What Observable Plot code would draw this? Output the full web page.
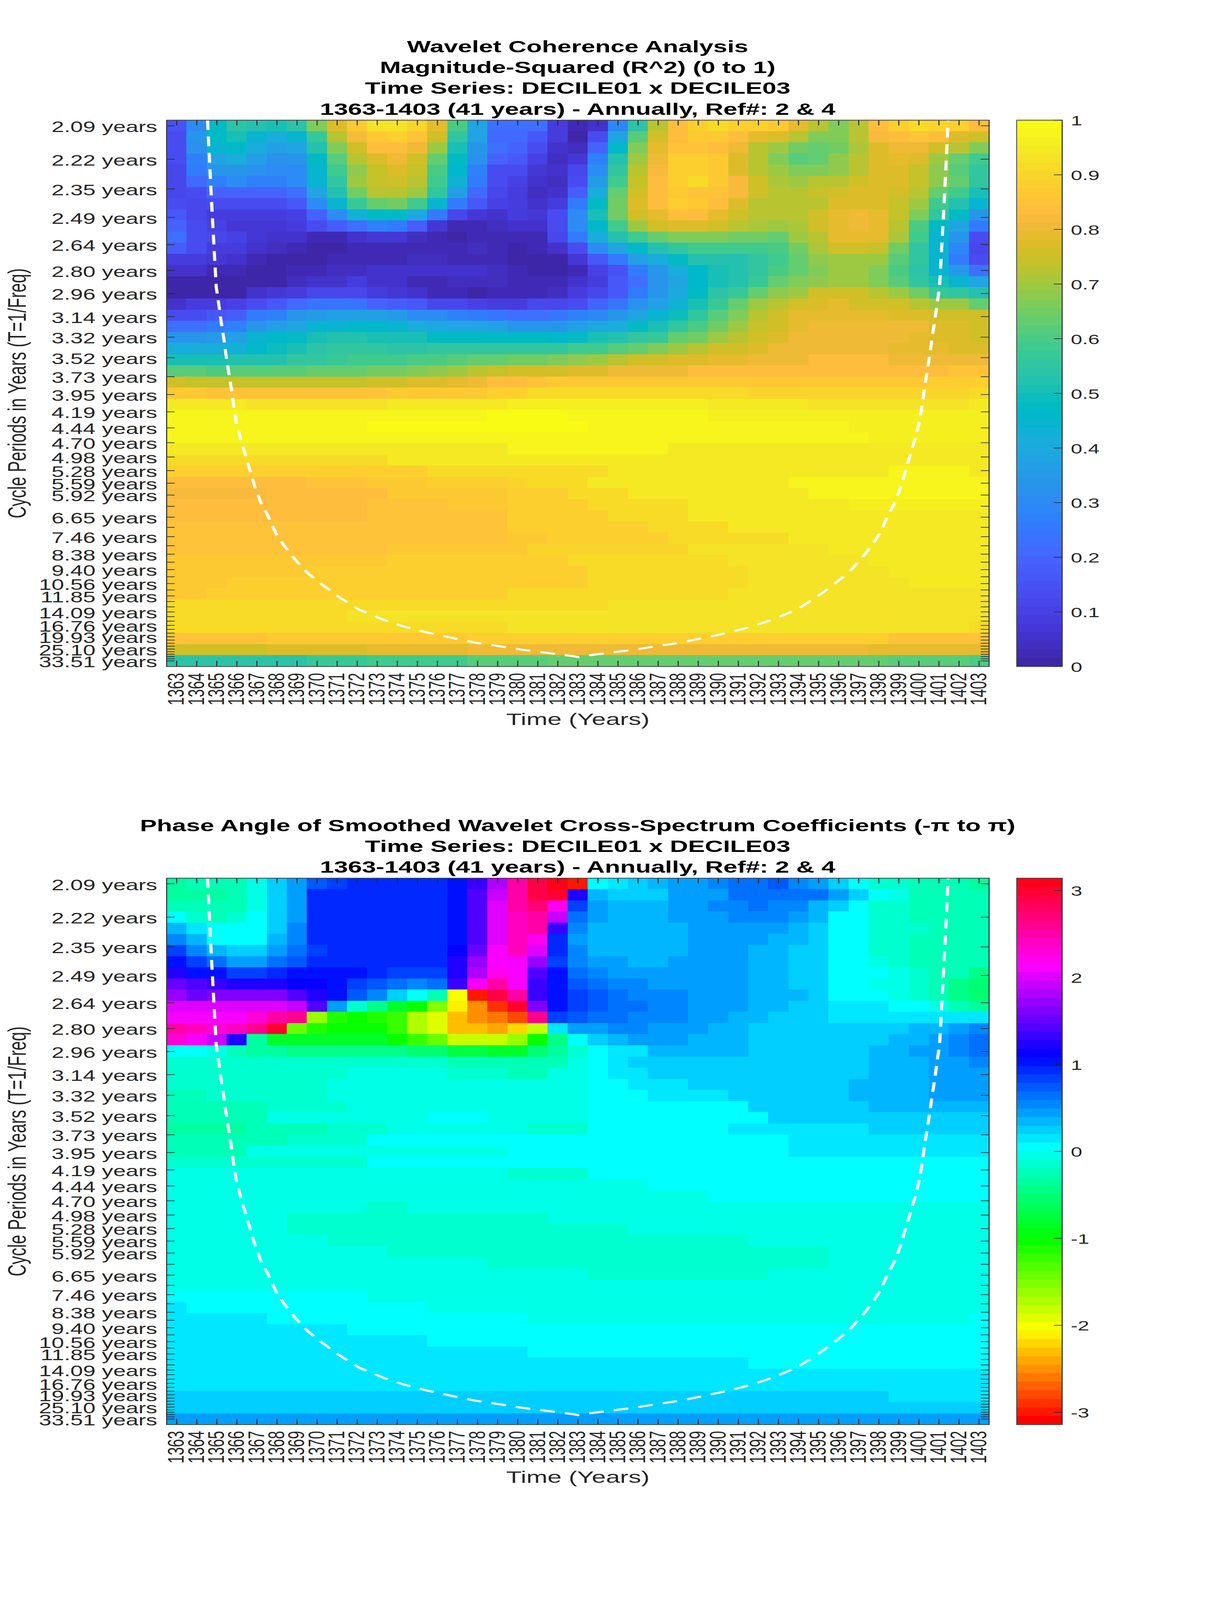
<!DOCTYPE html>
<html><head><meta charset="utf-8">
<script src="https://cdn.jsdelivr.net/npm/d3@7"></script>
<script src="https://cdn.jsdelivr.net/npm/@observablehq/plot@0.6"></script>
<style>
html,body{margin:0;padding:0;background:#fff;overflow:hidden}
#page{position:relative;width:3125px;height:6252px;overflow:hidden;transform-origin:0 0;font-family:"Liberation Sans",Arial,sans-serif}
.title{position:absolute;left:126px;width:2705px;text-align:center;font-weight:bold;font-size:64.5px;line-height:81px;color:#000;white-space:nowrap}
#page svg{position:absolute;display:block;background:transparent}
</style></head><body><div id="page"></div>
<script>
const years = d3.range(1363, 1404);
const periods = [2.09,2.22,2.35,2.49,2.64,2.80,2.96,3.14,3.32,3.52,3.73,3.95,4.19,4.44,4.70,4.98,5.28,5.59,5.92,6.27,6.65,7.05,7.46,7.91,8.38,8.88,9.40,9.96,10.56,11.19,11.85,12.55,13.30,14.09,14.93,15.82,16.76,17.76,18.81,19.93,21.12,22.37,23.70,25.10,26.59,28.17,29.85,31.62,33.51];
const labelledPeriods = [2.09,2.22,2.35,2.49,2.64,2.80,2.96,3.14,3.32,3.52,3.73,3.95,4.19,4.44,4.70,4.98,5.28,5.59,5.92,6.65,7.46,8.38,9.40,10.56,11.85,14.09,16.76,19.93,25.10,33.51];
const coiYears = [1364.54,1364.62,1364.73,1364.85,1364.97,1365.09,1365.22,1365.35,1365.46,1365.59,1365.72,1365.83,1365.95,1366.16,1366.4,1366.64,1366.88,1367.18,1367.58,1367.93,1368.33,1368.9,1369.55,1370.36,1371.16,1372.1,1373.26,1374.3,1375.5,1376.65,1377.86,1379.1,1380.25,1381.46,1382.76,1383,1383.24,1384.54,1385.75,1386.9,1388.14,1389.35,1390.5,1391.7,1392.74,1393.9,1394.84,1395.64,1396.45,1397.1,1397.67,1398.07,1398.42,1398.82,1399.12,1399.36,1399.6,1399.84,1400.05,1400.17,1400.28,1400.41,1400.54,1400.65,1400.78,1400.91,1401.03,1401.15,1401.27,1401.38,1401.46];
const coiRows = [0,3,7,11,14.94,16.4,18.13,19.6,21.07,22.54,24,25.46,26.9,28.4,29.86,31.3,32.77,34.24,35.6,37,38.1,39.4,40.65,41.8,42.85,43.9,44.77,45.4,45.96,46.4,46.85,47.18,47.5,47.77,48.07,48.15,48.07,47.77,47.5,47.18,46.85,46.4,45.96,45.4,44.77,43.9,42.85,41.8,40.65,39.4,38.1,37,35.6,34.24,32.77,31.3,29.86,28.4,26.9,25.46,24,22.54,21.07,19.6,18.13,16.4,14.94,11,7,3,0];

const coherence = [
[.15,.31,.47,.54,.53,.5,.54,.67,.78,.86, .93,.93,.9,.79,.6,.38,.22,.22,.22,.09, .02,.06,.29,.54,.73,.84,.89,.91,.89,.89, .86,.79,.72,.67,.73,.84,.89,.91,.9,.88,.84],
[.14,.33,.47,.51,.45,.42,.45,.57,.72,.82, .87,.89,.85,.75,.56,.38,.21,.21,.17,.09, .01,.13,.38,.61,.76,.84,.87,.87,.84,.79, .77,.73,.67,.67,.73,.82,.84,.85,.83,.78,.75],
[.14,.32,.44,.46,.41,.36,.39,.53,.67,.76, .83,.84,.81,.69,.51,.33,.22,.2,.13,.06, .04,.2,.46,.66,.79,.85,.85,.84,.8,.73, .7,.65,.64,.65,.71,.77,.81,.81,.76,.72,.66],
[.13,.28,.39,.41,.36,.32,.33,.47,.61,.72, .77,.81,.75,.63,.47,.32,.2,.17,.1,.04, .07,.27,.53,.7,.8,.88,.88,.86,.78,.73, .67,.62,.63,.68,.72,.78,.79,.78,.69,.63,.59],
[.11,.25,.33,.34,.32,.3,.31,.45,.58,.68, .74,.77,.74,.6,.46,.27,.14,.14,.07,.05, .11,.31,.56,.73,.82,.88,.88,.86,.78,.72, .69,.66,.66,.68,.72,.77,.77,.74,.68,.62,.55],
[.11,.21,.28,.3,.28,.28,.3,.45,.56,.69, .74,.75,.72,.58,.43,.25,.13,.1,.05,.04, .14,.35,.58,.74,.84,.88,.91,.86,.82,.75, .71,.7,.72,.72,.75,.77,.77,.74,.68,.63,.55],
[.12,.14,.2,.2,.2,.2,.23,.38,.53,.65, .72,.73,.69,.55,.36,.21,.12,.08,.04,.06, .18,.42,.63,.75,.83,.87,.85,.85,.82,.75, .72,.72,.74,.75,.77,.77,.76,.73,.64,.58,.5],
[.13,.12,.13,.13,.13,.13,.17,.31,.45,.57, .64,.65,.58,.45,.25,.16,.1,.08,.05,.09, .25,.47,.65,.78,.84,.88,.86,.84,.78,.73, .72,.72,.72,.77,.78,.78,.74,.7,.59,.53,.45],
[.16,.12,.09,.09,.08,.08,.1,.2,.31,.43, .48,.48,.4,.26,.12,.07,.06,.08,.07,.14, .31,.5,.65,.75,.79,.83,.83,.79,.75,.73, .72,.72,.75,.79,.8,.79,.74,.66,.55,.47,.34],
[.2,.13,.1,.07,.07,.07,.09,.13,.18,.23, .27,.26,.18,.07,.02,.02,.04,.05,.06,.13, .3,.46,.58,.69,.75,.77,.77,.76,.73,.71, .69,.71,.76,.79,.8,.79,.72,.6,.47,.38,.26],
[.23,.14,.11,.1,.07,.06,.05,.03,.03,.06, .07,.07,.04,.02,0,.02,.03,.03,.03,.12, .25,.41,.53,.58,.64,.66,.66,.66,.65,.65, .64,.69,.73,.79,.79,.79,.71,.59,.45,.33,.14],
[.18,.13,.09,.08,.06,.04,.02,.01,.01,.02, .03,.03,.03,.03,.03,.04,.03,.01,.02,.05, .13,.3,.38,.46,.53,.56,.58,.58,.58,.58, .6,.65,.71,.75,.76,.74,.65,.56,.45,.29,.11],
[.09,.08,.07,.05,.03,.01,.01,.01,.03,.03, .03,.03,.04,.04,.03,.03,.03,0,0,.01, .07,.16,.25,.36,.42,.47,.52,.53,.53,.55, .59,.64,.68,.7,.7,.69,.62,.55,.44,.25,.14],
[.05,.05,.03,.02,.01,.01,.03,.03,.04,.04, .05,.05,.05,.05,.05,.05,.04,.02,0,0, .02,.1,.15,.25,.34,.42,.46,.5,.53,.56, .6,.63,.67,.69,.7,.67,.6,.54,.44,.35,.23],
[0,0,0,0,0,0,.04,.05,.06,.08, .05,.05,.03,.03,.04,.04,.04,.02,.02,.02, .05,.09,.16,.23,.33,.38,.46,.5,.53,.57, .63,.66,.68,.7,.69,.66,.61,.56,.5,.45,.38],
[0,0,.01,.01,.05,.07,.08,.12,.12,.12, .09,.07,.06,.03,.03,.01,.03,.02,.02,.04, .08,.11,.16,.26,.33,.4,.47,.54,.57,.63, .68,.7,.75,.75,.75,.72,.69,.65,.57,.56,.52],
[.06,.08,.08,.1,.14,.17,.21,.24,.24,.24, .2,.18,.16,.12,.12,.1,.08,.09,.11,.12, .13,.19,.24,.32,.37,.43,.51,.57,.64,.69, .73,.76,.77,.79,.76,.76,.75,.72,.7,.69,.64],
[.13,.14,.16,.18,.25,.28,.33,.35,.37,.37, .37,.35,.31,.31,.28,.26,.24,.23,.23,.24, .27,.29,.33,.38,.44,.49,.55,.61,.67,.72, .75,.79,.79,.79,.79,.79,.78,.78,.76,.75,.75],
[.23,.23,.25,.28,.33,.37,.39,.44,.45,.46, .46,.45,.41,.4,.39,.38,.37,.34,.33,.33, .36,.4,.42,.47,.5,.56,.6,.65,.7,.74, .76,.79,.81,.81,.81,.81,.8,.8,.78,.78,.75],
[.33,.34,.35,.37,.44,.46,.48,.5,.52,.52, .51,.51,.5,.47,.47,.47,.48,.47,.47,.46, .48,.5,.53,.55,.57,.63,.65,.69,.73,.75, .78,.8,.81,.81,.81,.81,.8,.79,.78,.78,.75],
[.41,.41,.42,.43,.46,.49,.51,.54,.55,.56, .55,.54,.54,.55,.55,.55,.55,.55,.55,.55, .58,.59,.61,.63,.66,.69,.72,.75,.76,.78, .8,.8,.81,.81,.81,.81,.79,.79,.79,.77,.77],
[.51,.51,.51,.52,.53,.53,.55,.56,.57,.58, .59,.58,.6,.6,.61,.63,.64,.65,.65,.66, .68,.69,.72,.75,.76,.77,.77,.79,.79,.81, .81,.81,.83,.83,.83,.83,.81,.81,.81,.8,.8],
[.61,.61,.6,.61,.61,.62,.62,.63,.64,.64, .65,.65,.66,.68,.7,.72,.74,.75,.75,.76, .78,.78,.8,.81,.81,.81,.83,.83,.84,.84, .84,.84,.84,.84,.84,.84,.84,.84,.84,.85,.85],
[.75,.74,.74,.74,.74,.74,.74,.74,.74,.74, .75,.76,.77,.78,.79,.81,.83,.83,.85,.86, .86,.86,.87,.87,.87,.87,.87,.87,.87,.87, .87,.87,.87,.87,.87,.87,.87,.87,.88,.88,.88],
[.86,.86,.85,.85,.85,.85,.85,.85,.85,.85, .85,.86,.86,.87,.87,.87,.88,.89,.91,.91, .91,.91,.91,.91,.91,.91,.91,.91,.91,.9, .9,.9,.9,.9,.9,.9,.9,.9,.9,.9,.92],
[.95,.95,.95,.95,.93,.93,.93,.93,.93,.93, .93,.94,.94,.94,.95,.95,.95,.96,.96,.96, .96,.96,.96,.96,.96,.96,.96,.95,.95,.95, .95,.95,.93,.93,.93,.93,.93,.93,.93,.93,.95],
[.98,.98,.98,.98,.98,.98,.98,.98,.98,.98, .98,.98,.98,.98,.98,.98,.99,1,1,1, .98,.98,.98,.98,.98,.98,.98,.96,.96,.96, .96,.96,.96,.96,.96,.96,.96,.96,.96,.96,.96],
[.98,.98,.98,.98,.98,.98,.98,.98,.98,.98, .99,.99,.99,.99,.99,.99,.99,1,1,1, 1,.98,.98,.98,.98,.98,.98,.98,.97,.97, .97,.97,.97,.97,.96,.96,.96,.96,.96,.96,.96],
[.98,.98,.98,.98,.98,.98,.98,.98,.98,.98, .98,.98,.98,.98,.98,.98,.98,.98,.98,.98, .98,.98,.98,.98,.98,.98,.98,.98,.97,.97, .97,.97,.97,.97,.97,.96,.96,.96,.96,.96,.96],
[.95,.95,.95,.95,.95,.95,.95,.95,.95,.95, .95,.95,.95,.95,.95,.95,.95,.97,.97,.97, .97,.97,.97,.97,.97,.95,.95,.95,.95,.95, .95,.95,.95,.95,.95,.95,.95,.95,.95,.95,.95],
[.91,.91,.91,.91,.91,.92,.92,.92,.92,.92, .92,.94,.94,.94,.94,.94,.94,.95,.95,.95, .95,.95,.95,.95,.95,.95,.95,.95,.95,.95, .95,.95,.95,.95,.95,.95,.95,.95,.95,.95,.95],
[.88,.88,.88,.88,.88,.88,.89,.89,.89,.89, .89,.89,.89,.91,.91,.91,.91,.92,.92,.92, .92,.92,.95,.95,.95,.95,.95,.95,.95,.95, .95,.95,.95,.95,.95,.95,.97,.97,.97,.97,.95],
[.83,.83,.84,.84,.84,.84,.84,.85,.85,.85, .87,.87,.87,.88,.88,.88,.88,.9,.92,.92, .92,.94,.94,.94,.94,.95,.95,.95,.95,.95, .95,.97,.97,.97,.97,.97,.97,.97,.97,.97,.97],
[.82,.82,.82,.82,.82,.83,.83,.83,.83,.84, .84,.86,.86,.86,.86,.86,.86,.89,.89,.89, .91,.91,.91,.94,.94,.94,.95,.95,.95,.95, .95,.95,.97,.97,.97,.97,.97,.97,.97,.97,.97],
[.83,.83,.83,.83,.83,.83,.83,.83,.83,.83, .85,.85,.85,.85,.86,.86,.86,.88,.89,.89, .89,.92,.92,.92,.92,.92,.95,.95,.95,.95, .95,.95,.95,.95,.96,.96,.96,.96,.96,.96,.96],
[.84,.84,.84,.84,.84,.84,.84,.84,.84,.84, .85,.85,.85,.85,.85,.85,.85,.88,.88,.89, .89,.89,.92,.92,.92,.92,.94,.94,.94,.94, .95,.95,.95,.95,.95,.95,.95,.95,.95,.95,.95],
[.85,.85,.85,.85,.85,.85,.85,.85,.85,.85, .85,.85,.85,.85,.85,.85,.85,.88,.88,.88, .89,.89,.89,.89,.92,.92,.92,.92,.94,.94, .94,.94,.94,.94,.95,.95,.95,.95,.95,.95,.95],
[.85,.85,.85,.85,.85,.85,.85,.85,.85,.85, .85,.85,.85,.85,.85,.85,.85,.87,.87,.89, .89,.89,.89,.89,.89,.92,.92,.92,.92,.92, .92,.94,.94,.94,.94,.94,.94,.94,.94,.94,.94],
[.85,.85,.85,.85,.85,.85,.85,.85,.85,.85, .85,.87,.87,.87,.87,.87,.87,.87,.9,.9, .9,.9,.9,.9,.9,.9,.93,.93,.93,.93, .93,.93,.93,.94,.94,.94,.94,.94,.94,.94,.94],
[.86,.86,.86,.86,.86,.86,.86,.86,.86,.86, .86,.88,.88,.88,.88,.88,.88,.88,.88,.88, .91,.91,.91,.91,.91,.91,.91,.91,.93,.93, .93,.93,.93,.93,.93,.94,.94,.94,.94,.94,.94],
[.86,.86,.86,.86,.86,.86,.86,.88,.88,.88, .88,.88,.88,.88,.88,.88,.88,.88,.88,.88, .88,.91,.91,.91,.91,.91,.91,.91,.91,.93, .93,.93,.93,.93,.93,.93,.94,.94,.94,.94,.94],
[.86,.86,.86,.88,.88,.88,.88,.88,.88,.88, .88,.88,.88,.88,.88,.88,.88,.88,.88,.88, .88,.91,.91,.91,.91,.91,.91,.91,.91,.93, .93,.93,.93,.93,.93,.93,.93,.94,.94,.94,.94],
[.87,.87,.89,.89,.89,.89,.89,.89,.89,.89, .89,.89,.89,.89,.89,.89,.89,.91,.91,.91, .91,.91,.91,.91,.91,.91,.91,.91,.93,.93, .93,.93,.93,.93,.93,.93,.93,.93,.93,.93,.93],
[.91,.91,.91,.91,.91,.91,.91,.91,.91,.91, .91,.91,.91,.92,.92,.92,.92,.92,.92,.92, .92,.92,.93,.93,.93,.93,.93,.93,.93,.93, .93,.93,.93,.93,.93,.93,.93,.93,.93,.93,.93],
[.91,.91,.91,.91,.91,.91,.91,.91,.91,.93, .93,.93,.93,.93,.93,.93,.93,.93,.93,.93, .93,.93,.93,.93,.93,.93,.93,.93,.93,.93, .93,.93,.93,.93,.93,.93,.93,.93,.93,.93,.93],
[.91,.91,.91,.91,.91,.91,.91,.91,.91,.91, .91,.91,.91,.91,.91,.91,.91,.93,.93,.93, .93,.93,.93,.93,.93,.93,.93,.93,.93,.93, .93,.93,.93,.93,.93,.93,.93,.93,.93,.93,.91],
[.85,.85,.85,.85,.85,.87,.87,.87,.87,.87, .87,.87,.87,.87,.87,.88,.88,.88,.88,.88, .88,.88,.88,.88,.88,.88,.88,.88,.88,.88, .88,.88,.88,.88,.88,.88,.85,.85,.85,.85,.85],
[.75,.75,.75,.75,.75,.77,.77,.77,.77,.77, .79,.79,.79,.79,.79,.8,.8,.8,.8,.8, .8,.8,.8,.8,.8,.8,.8,.8,.8,.8, .8,.8,.8,.8,.8,.79,.79,.79,.79,.79,.79],
[.54,.54,.54,.54,.54,.54,.54,.57,.57,.57, .59,.59,.59,.59,.59,.61,.61,.61,.61,.64, .64,.64,.64,.64,.64,.64,.64,.64,.64,.64, .64,.64,.64,.64,.64,.64,.62,.62,.62,.62,.6]
];

const phase = [
[-.33,-.28,-.28,-.2,-.03,.2,.45,.7,.85,.93, .93,.93,.93,.93,1,1.35,1.85,2.55,2.85,3.05, -3,.02,.1,.2,.3,.4,.48,.5,.6,.6, .72,.55,.48,.2,0,-.1,-.15,-.28,-.28,-.28,-.32],
[-.3,-.3,-.3,-.2,-.05,.2,.45,.93,.93,.93, .93,.93,.93,.93,1.02,1.4,1.9,2.55,2.85,2.95, 1.25,.3,.2,.28,.28,.4,.48,.48,.6,.6, .6,.6,.6,.4,.2,0,-.07,-.25,-.25,-.25,-.25],
[-.2,-.2,-.2,-.2,-.05,.2,.45,.93,.93,.93, .93,.93,.93,.93,1.02,1.4,2,2.55,2.7,2.25, .85,.4,.3,.3,.3,.4,.4,.5,.5,.6, .5,.5,.3,.2,0,-.1,-.15,-.27,-.27,-.27,-.27],
[.02,-.1,-.2,-.1,0,.2,.45,.93,.93,.93, .93,.93,.93,.93,1.02,1.4,2,2.4,2.55,1.9, .62,.4,.3,.3,.3,.4,.4,.4,.5,.5, .5,.42,.3,.05,0,-.1,-.15,-.27,-.27,-.27,-.27],
[.3,.1,0,0,0,.2,.55,.93,.93,.93, .93,.93,.93,.93,1.02,1.4,2,2.4,2.5,1.3, .5,.3,.3,.3,.3,.3,.4,.4,.4,.4, .4,.3,.2,.05,0,-.1,-.15,-.15,-.27,-.27,-.27],
[.5,.3,.08,.08,.08,.3,.55,.93,.93,.93, .93,.93,.93,.93,1.02,1.4,2,2.4,2.2,.9, .4,.3,.3,.3,.3,.3,.4,.4,.4,.4, .3,.3,.2,.05,0,-.1,-.15,-.2,-.27,-.27,-.27],
[.8,.5,.35,.2,.2,.4,.65,.85,.93,.93, .93,.93,.93,.95,1.1,1.55,2.1,2.4,2.05,.9, .5,.3,.3,.3,.3,.3,.4,.4,.4,.3, .3,.2,.2,.05,0,-.1,-.15,-.2,-.27,-.27,-.27],
[1.03,.8,.6,.42,.42,.6,.75,.9,.98,.98, .93,.93,.93,.93,1.25,1.75,2.1,2.1,1.75,.88, .55,.4,.4,.3,.3,.4,.4,.4,.4,.3, .3,.2,.2,.05,0,-.08,-.12,-.2,-.27,-.27,-.27],
[1.25,1.05,1.03,.85,.85,.93,1,1,1,1, .93,.8,.8,.85,1.25,1.85,2.2,2.1,1.45,1.05, .65,.5,.4,.4,.4,.4,.4,.4,.4,.3, .3,.2,.2,.05,0,0,-.03,-.15,-.27,-.27,-.45],
[1.55,1.4,1.3,1.2,1.2,1.2,1.15,1.1,1.05,.8, .7,.65,.55,.65,1.3,2.1,2.5,2.1,1.35,1.05, .72,.6,.5,.5,.4,.4,.4,.4,.4,.3, .3,.2,.2,.08,.08,-.02,-.07,-.15,-.27,-.42,-.55],
[1.7,1.55,1.6,1.65,1.65,1.65,1.45,1.2,1.03,.7, .5,.2,0,-.25,-2.05,-3,2.9,2.55,1.35,1.05, .8,.7,.6,.5,.5,.5,.4,.4,.4,.3, .3,.3,.2,.08,0,0,-.07,-.12,-.2,-.42,-.55],
[1.97,1.97,1.97,1.97,1.97,1.97,1.9,1.4,.4,-.15, -.45,-.8,-1.05,-1.55,-2.15,-2.5,-2.85,2.95,1.65,1.02, .85,.75,.65,.6,.5,.5,.4,.4,.4,.3, .3,.2,.2,.1,.1,.1,0,0,-.03,-.2,-.3],
[2.1,2.1,2.1,2.1,2.3,2.5,2.6,-1.65,-1.15,-1.05, -1.1,-1.25,-1.75,-1.95,-2.3,-2.5,-2.6,-2.8,2.6,.85, .7,.6,.6,.5,.5,.5,.4,.4,.3,.3, .2,.2,.2,.1,.1,.1,.1,.1,.1,.1,.1],
[2.5,2.4,2.35,2.45,2.6,3,-1.4,-1.1,-1.05,-1.05, -1.05,-1.2,-1.7,-1.95,-2.3,-2.35,-2.4,-2.25,-1.8,.1, .4,.4,.55,.55,.4,.4,.4,.3,.3,.2, .2,.2,.2,.2,.2,.2,.2,.3,.3,.4,.5],
[2.3,2.15,1.9,1.2,-.3,-.8,-.8,-.8,-.8,-.85, -.85,-1,-1.2,-1.45,-1.8,-1.85,-1.85,-1.6,-1.05,-.45, 0,.2,.3,.42,.42,.42,.3,.3,.3,.2, .2,.2,.2,.2,.2,.2,.3,.3,.4,.5,.6],
[0,0,-.05,-.2,-.35,-.35,-.45,-.45,-.45,-.45, -.45,-.45,-.5,-.5,-.75,-.75,-.8,-.85,-.55,-.3, -.1,.07,.18,.18,.3,.3,.3,.3,.3,.2, .2,.2,.2,.2,.2,.3,.3,.4,.4,.5,.6],
[-.15,-.15,-.15,-.15,-.15,-.15,-.15,-.15,-.15,-.15, -.15,-.15,-.15,-.15,-.25,-.25,-.25,-.25,-.25,-.2, -.08,0,.1,.2,.2,.2,.2,.2,.2,.2, .2,.2,.2,.2,.2,.3,.3,.3,.4,.4,.5],
[-.15,-.15,-.15,-.15,-.15,-.15,-.15,-.15,-.15,-.05, -.05,-.05,-.05,-.05,-.17,-.17,-.17,-.2,-.2,-.05, -.05,0,.1,.1,.2,.2,.2,.2,.2,.2, .2,.2,.2,.2,.2,.3,.3,.3,.4,.4,.4],
[-.15,-.15,-.15,-.15,-.15,-.15,-.15,-.15,-.04,-.04, -.04,-.04,-.04,-.04,-.04,-.04,-.04,-.05,-.05,-.05, -.05,0,0,.1,.1,.1,.2,.2,.2,.2, .2,.2,.2,.2,.3,.3,.3,.3,.4,.4,.4],
[-.2,-.2,-.12,-.12,-.12,-.12,-.12,-.12,-.04,-.04, -.04,-.04,-.04,-.04,-.04,-.04,-.04,-.05,-.05,-.05, -.05,0,0,0,.1,.1,.1,.1,.2,.2, .2,.2,.2,.2,.3,.3,.3,.3,.4,.4,.4],
[-.22,-.22,-.22,-.22,-.22,-.15,-.15,-.15,-.15,-.02, -.02,-.02,-.02,-.02,-.02,-.02,-.02,-.05,-.05,-.05, -.05,0,0,0,0,.08,.08,.08,.08,.2, .2,.2,.2,.2,.2,.3,.3,.3,.3,.3,.3],
[-.25,-.25,-.25,-.25,-.25,-.08,-.08,-.08,-.08,-.08, -.08,-.08,-.08,0,0,0,-.03,-.05,-.05,-.05, -.08,0,0,0,0,0,0,.08,.08,.08, .2,.2,.2,.2,.2,.2,.2,.2,.2,.2,.2],
[-.3,-.3,-.3,-.3,-.2,-.2,-.2,-.2,-.12,-.12, -.12,-.02,-.02,-.02,-.02,-.02,-.02,-.02,-.12,-.12, -.12,0,0,0,0,0,0,0,.1,.1, .1,.1,.1,.1,.1,.2,.2,.2,.2,.2,.2],
[-.27,-.27,-.27,-.27,-.2,-.2,-.12,-.12,-.12,-.12, 0,0,0,0,0,0,0,0,0,0, 0,0,0,0,0,0,0,0,0,.05, .05,.12,.12,.12,.12,.12,.12,.12,.12,.12,.12],
[-.27,-.27,-.27,-.27,-.08,-.08,-.08,-.08,-.08,-.02, -.02,-.02,-.02,-.02,-.02,-.02,-.02,0,0,0, 0,0,0,0,0,0,0,0,0,0, 0,.12,.12,.12,.12,.12,.12,.12,.12,.12,.12],
[-.1,-.1,-.1,-.1,-.1,-.1,-.1,-.1,-.1,-.1, 0,0,0,0,0,0,0,0,0,0, 0,0,0,0,0,0,0,0,0,0, 0,0,0,0,0,0,0,0,0,0,0],
[-.05,-.05,-.05,-.05,-.05,-.05,-.05,-.05,-.05,-.05, -.05,-.05,-.05,-.05,-.05,-.05,-.05,-.12,-.12,-.12, -.12,0,0,0,0,0,0,0,0,0, 0,0,0,0,0,0,0,0,0,0,0],
[-.05,-.05,-.05,-.05,-.05,-.05,-.05,-.05,-.05,-.05, -.05,-.05,-.05,-.05,-.05,-.05,-.05,-.05,-.05,-.05, -.05,-.05,-.05,-.05,0,0,0,0,0,0, 0,0,0,0,0,0,0,0,0,0,0],
[-.05,-.05,-.05,-.05,-.05,-.05,-.05,-.05,-.05,-.05, -.05,-.05,-.05,-.05,-.05,-.05,-.05,-.05,-.05,-.05, -.05,-.05,-.05,-.05,-.05,-.05,-.05,0,0,0, 0,0,0,0,0,0,0,0,0,0,0],
[-.05,-.05,-.05,-.05,-.05,-.05,-.05,-.05,-.05,-.05, -.12,-.12,-.05,-.05,-.05,-.05,-.05,-.05,-.05,-.05, -.05,-.05,-.05,-.05,-.05,-.05,-.05,-.05,-.05,-.05, -.05,-.05,-.05,-.05,-.05,-.05,-.05,-.05,-.05,-.05,-.05],
[-.05,-.05,-.05,-.05,-.05,-.05,-.13,-.13,-.13,-.13, -.13,-.13,-.13,-.13,-.13,-.13,-.13,-.15,-.15,-.05, -.05,-.05,-.05,-.05,-.05,-.05,-.05,-.05,-.05,-.05, -.05,-.05,-.05,-.05,-.05,-.05,-.05,-.05,-.05,-.05,-.05],
[-.05,-.05,-.05,-.05,-.05,-.05,-.13,-.13,-.13,-.13, -.13,-.13,-.13,-.13,-.13,-.13,-.13,-.15,-.15,-.15, -.15,-.15,-.15,-.05,-.05,-.05,-.05,-.05,-.05,-.05, -.05,-.05,-.05,-.05,-.05,-.05,-.05,-.05,-.05,-.05,-.05],
[-.05,-.05,-.05,-.05,-.05,-.05,-.05,-.05,-.15,-.15, -.15,-.15,-.15,-.15,-.15,-.15,-.15,-.15,-.15,-.15, -.15,-.15,-.15,-.15,-.15,-.15,-.15,-.15,-.15,-.05, -.05,-.05,-.05,-.05,-.05,-.05,-.05,-.05,-.05,-.05,-.05],
[-.02,-.05,-.05,-.05,-.05,-.05,-.05,-.05,-.05,-.05, -.05,-.15,-.15,-.15,-.15,-.15,-.15,-.15,-.15,-.15, -.15,-.15,-.15,-.15,-.15,-.15,-.15,-.15,-.15,-.15, -.15,-.15,-.15,-.05,-.05,-.05,-.05,-.05,-.05,-.05,-.05],
[-.02,-.02,-.02,-.05,-.05,-.05,-.05,-.05,-.05,-.05, -.05,-.05,-.05,-.05,-.05,-.05,-.12,-.15,-.15,-.15, -.15,-.15,-.15,-.15,-.15,-.15,-.15,-.15,-.15,-.15, -.15,-.15,-.15,-.05,-.05,-.05,-.05,-.05,-.05,-.05,-.05],
[-.02,-.02,-.02,-.02,-.02,-.02,-.05,-.05,-.05,-.05, -.05,-.05,-.05,-.05,-.05,-.05,-.05,-.05,-.05,-.05, -.05,-.15,-.15,-.15,-.15,-.15,-.15,-.15,-.15,-.15, -.05,-.05,-.05,-.05,-.05,-.05,-.05,-.05,-.05,-.05,-.05],
[-.02,-.02,-.02,-.02,-.02,-.02,-.02,-.02,-.02,-.02, -.05,-.05,-.05,-.05,-.05,-.05,-.05,-.05,-.05,-.05, -.05,-.05,-.05,-.05,-.05,-.05,-.05,-.05,-.05,-.05, -.05,-.05,-.05,-.05,-.05,-.05,-.05,-.05,-.05,-.05,-.05],
[0,0,0,0,0,0,0,0,0,0, -.05,-.05,-.05,-.05,-.05,-.05,-.05,-.05,-.05,-.05, -.05,-.05,-.05,-.05,-.05,-.05,-.05,-.05,-.05,-.05, -.05,-.05,-.05,-.05,-.05,-.05,-.05,-.05,-.05,-.05,-.05],
[.1,0,0,0,0,0,0,0,0,0, 0,0,0,-.05,-.05,-.05,-.05,-.05,-.05,-.05, -.05,-.05,-.05,-.05,-.05,-.05,-.05,-.05,-.05,-.05, -.05,-.05,-.05,-.05,-.05,-.05,-.05,-.05,-.05,-.05,-.05],
[.1,.1,.1,.1,.1,0,0,0,0,0, 0,0,0,0,0,0,0,0,-.05,-.05, -.05,-.05,-.05,-.05,-.05,-.05,-.05,-.05,-.05,-.05, -.05,-.05,-.05,-.05,-.05,-.05,-.05,-.05,-.05,-.05,0],
[.1,.1,.1,.1,.1,.1,.1,.1,.1,0, 0,0,0,0,0,0,0,0,0,0, 0,0,0,0,0,0,0,0,0,0, 0,0,0,0,0,0,0,0,0,0,0],
[.1,.1,.1,.1,.1,.1,.1,.1,.1,.1, .1,.1,.1,0,0,0,0,0,0,0, 0,0,0,0,0,0,0,0,0,0, 0,0,0,0,0,0,0,0,0,0,0],
[.1,.1,.1,.1,.1,.1,.1,.1,.1,.1, .1,.1,.1,.1,.1,.1,.1,.1,0,0, 0,0,0,0,0,0,0,0,0,0, 0,0,0,0,0,0,0,0,0,0,0],
[.1,.1,.1,.1,.1,.1,.1,.1,.1,.1, .1,.1,.1,.1,.1,.1,.1,.1,.1,.1, .1,.1,.1,.1,.1,.1,.1,.1,.1,0, 0,0,0,0,0,0,0,0,0,0,0],
[.1,.1,.1,.1,.1,.1,.1,.1,.1,.1, .1,.1,.1,.1,.1,.1,.1,.1,.1,.1, .1,.1,.1,.1,.1,.1,.1,.1,.1,.1, .1,.1,.1,.1,.1,.1,.1,.1,.1,.1,.1],
[.1,.1,.1,.1,.1,.1,.1,.1,.1,.1, .1,.1,.1,.1,.1,.1,.1,.1,.1,.1, .1,.1,.1,.1,.1,.1,.1,.1,.1,.1, .1,.1,.1,.1,.1,.1,.1,.1,.1,.1,.1],
[.2,.2,.2,.2,.2,.2,.2,.2,.2,.2, .2,.2,.2,.2,.2,.2,.2,.2,.2,.2, .2,.2,.2,.2,.2,.2,.2,.2,.2,.2, .2,.2,.2,.2,.2,.2,.1,.1,.1,.1,.1],
[.2,.2,.2,.2,.2,.2,.2,.2,.2,.2, .2,.2,.2,.2,.2,.2,.2,.2,.2,.2, .2,.2,.2,.2,.2,.2,.2,.2,.2,.2, .2,.2,.2,.2,.2,.2,.2,.2,.2,.2,.2],
[.4,.4,.4,.4,.4,.4,.4,.4,.4,.4, .4,.4,.4,.4,.4,.4,.4,.4,.4,.4, .4,.4,.4,.4,.4,.4,.4,.4,.4,.4, .4,.4,.4,.4,.4,.4,.4,.4,.4,.4,.4]
];

const parula = ["#3e26a8","#402ab5","#422fc0","#4332cb","#4537d5","#463cde","#4741e5","#4747eb","#484cf0","#4852f4","#4758f8","#465dfa","#4563fc","#4269fe","#3e6fff","#3875fe","#327bfc","#2f81fa","#2d87f7","#2d8cf3","#2b91ee","#2796ea","#259be7","#23a0e5","#20a5e2","#1ca9df","#18addb","#11b1d6","#08b4d0","#01b8ca","#02bac3","#0bbdbc","#18bfb5","#24c1ae","#2cc3a7","#31c69f","#37c897","#3fca8e","#4acb84","#57cc7a","#64cd6f","#71cc63","#80cc59","#8fca4e","#9dc942","#abc739","#b9c431","#c5c22a","#d1bf27","#dcbd29","#e6bb2d","#efba35","#f8ba3d","#febd3c","#fec338","#fdc932","#fccf2e","#f9d52b","#f7db27","#f5e327","#f5e924","#f6ef20","#f7f51b","#f9fb15"];
const hsvBands = d3.range(64).map(i => d3.hsl(i / 64 * 360, 1, 0.5).formatHex());

const INK = "#262626";
const W = 2105, H = 2135;
const page = document.getElementById("page");
const f0 = 1 / periods[0], f48 = 1 / periods[48];
const tickRow = p => 0.5 + 48 * (f0 - 1 / p) / (f0 - f48);
const rowToLabel = new Map(labelledPeriods.map(p => [tickRow(p), p.toFixed(2) + " years"]));

function place(svg, left, top) { svg.style.left = left + "px"; svg.style.top = top + "px"; page.appendChild(svg); }

function panel(rows, bands, lo, hi, top, marginTop, cbTicks) {
  const thresholds = d3.range(1, 64).map(i => lo + (hi - lo) * i / 64);
  const color = {type: "threshold", domain: thresholds, range: bands};
  const cells = rows.flatMap((r, j) => r.map((v, i) => ({year: years[i], row: j, v})));
  const svg = Plot.plot({
    width: 3125, height: marginTop + H + 522,
    marginLeft: 426, marginRight: 594, marginTop, marginBottom: 522,
    style: {fontFamily: "'Liberation Sans',Arial,sans-serif", fontSize: "58px", color: INK, background: "transparent"},
    x: {type: "linear", domain: [1362.5, 1403.5]},
    y: {type: "linear", domain: [49, 0]},
    color,
    marks: [
      Plot.rect(cells, {x1: d => d.year - 0.5, x2: d => d.year + 0.5, y1: d => d.row, y2: d => d.row + 1, fill: "v", shapeRendering: "crispEdges"}),
      Plot.line(coiYears.map((y, i) => [y, coiRows[i]]), {x: "0", y: "1", stroke: "#fff", strokeWidth: 8, strokeDasharray: "38,26", strokeLinecap: "butt", strokeLinejoin: "miter"}),
      Plot.tickX(years, {x: d => d, insetBottom: H - 21, stroke: INK, strokeWidth: 2.5}),
      Plot.tickX(years, {x: d => d, insetTop: H - 22, stroke: INK, strokeWidth: 2.5}),
      Plot.tickY(periods.map(tickRow), {y: d => d, insetRight: W - 21, stroke: INK, strokeWidth: 2.5}),
      Plot.tickY(periods.map(tickRow), {y: d => d, insetLeft: W - 21, stroke: INK, strokeWidth: 2.5}),
      Plot.frame({stroke: "#404040", strokeWidth: 3}),
      Plot.axisX({ticks: years, tickFormat: d => String(d), tickRotate: -90, tickSize: 0, tickPadding: 25, fontSize: 57, label: null}),
      Plot.axisY({ticks: [...rowToLabel.keys()], tickFormat: d => rowToLabel.get(d), tickSize: 0, tickPadding: 24, dy: 6, label: null}),
      Plot.text(["Time (Years)"], {frameAnchor: "bottom", lineAnchor: "bottom", dy: 228, fontSize: 65, fill: INK}),
      Plot.text(["Cycle Periods in Years (T=1/Freq)"], {frameAnchor: "left", textAnchor: "middle", rotate: -90, dx: -381, fontSize: 65, fill: INK})
    ]
  });
  place(svg, 0, top);

  const edges = d3.range(64).map(i => ({a: lo + (hi - lo) * i / 64, b: lo + (hi - lo) * (i + 1) / 64}));
  const bar = Plot.plot({
    width: 524, height: H + 100,
    marginLeft: 0, marginRight: 407, marginTop: 50, marginBottom: 50,
    style: {fontFamily: "'Liberation Sans',Arial,sans-serif", fontSize: "53px", color: INK, background: "transparent"},
    y: {type: "linear", domain: [lo, hi]},
    color,
    marks: [
      Plot.rect(edges, {y1: "a", y2: "b", fill: d => (d.a + d.b) / 2, shapeRendering: "crispEdges"}),
      Plot.tickY(cbTicks, {y: d => d, insetLeft: 117 - 21, stroke: INK, strokeWidth: 2.5}),
      Plot.frame({stroke: "#404040", strokeWidth: 3}),
      Plot.axisY({anchor: "right", ticks: cbTicks, tickFormat: d => String(d), tickSize: 0, tickPadding: 22, dy: 4, label: null})
    ]
  });
  place(bar, 2601, top + marginTop - 50);
}

panel(coherence, parula, 0, 1, 0, 469, [0,0.1,0.2,0.3,0.4,0.5,0.6,0.7,0.8,0.9,1]);
panel(phase, hsvBands, -Math.PI, Math.PI, 3126, 305, [-3,-2,-1,0,1,2,3]);

const titles = [
  {top: 143, lines: ["Wavelet Coherence Analysis", "Magnitude-Squared (R^2) (0 to 1)", "Time Series: DECILE01 x DECILE03", "1363-1403 (41 years) - Annually, Ref#: 2 & 4"]},
  {top: 3186, lines: ["Phase Angle of Smoothed Wavelet Cross-Spectrum Coefficients (-π to π)", "Time Series: DECILE01 x DECILE03", "1363-1403 (41 years) - Annually, Ref#: 2 & 4"]}
];
for (const t of titles) {
  const d = document.createElement("div");
  d.className = "title";
  d.style.top = t.top + "px";
  t.lines.forEach(l => { const s = document.createElement("div"); s.textContent = l; d.appendChild(s); });
  page.appendChild(d);
}

// The chart is laid out at its 3125x6252 size. If the browser gives a shorter viewport, fit it vertically so nothing is cut.
const fitY = Math.min(1, window.innerHeight / 6252);
page.style.transform = `scale(1, ${fitY})`;
document.body.style.height = 6252 * fitY + "px";
</script></body></html>
